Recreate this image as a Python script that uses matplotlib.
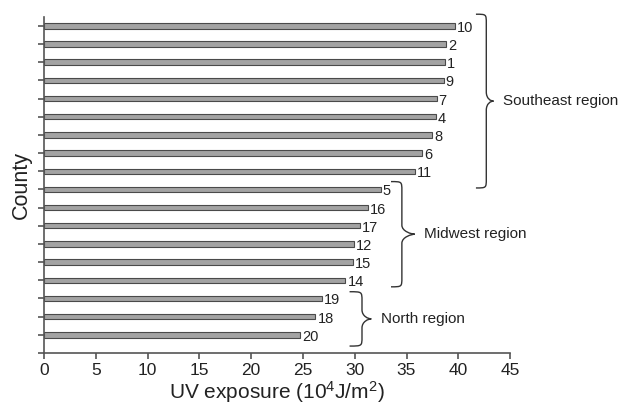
import matplotlib
matplotlib.use("Agg")
import matplotlib.pyplot as plt
from matplotlib.path import Path
from matplotlib.patches import PathPatch

plt.rcParams['font.family'] = ['Liberation Sans', 'DejaVu Sans']
plt.rcParams['mathtext.fontset'] = 'custom'
plt.rcParams['mathtext.rm'] = 'Liberation Sans'
plt.rcParams['mathtext.default'] = 'rm'

# counties, top to bottom
counties = [10, 2, 1, 9, 7, 4, 8, 6, 11, 5, 16, 17, 12, 15, 14, 19, 18, 20]
uv = [39.7, 38.8, 38.7, 38.6, 37.9, 37.8, 37.5, 36.5, 35.8,
      32.5, 31.3, 30.5, 29.9, 29.8, 29.1, 26.8, 26.2, 24.7]
regions = ["Southeast region", "Midwest region", "North region"]
region_sizes = [9, 6, 3]

n = len(counties)
ypos = [n - 1 - i for i in range(n)]

fig = plt.figure(figsize=(6.24, 4.09), dpi=100)
ax = fig.add_axes([0.0705, 0.137, 0.747, 0.822])

ax.barh(ypos, uv, height=0.3, color='#a3a3a3', edgecolor='#4a4a4a', linewidth=0.8)

for c, v, y in zip(counties, uv, ypos):
    ax.annotate(str(c), (v, y), xytext=(2, -2), textcoords='offset pixels',
                va='center', ha='left', fontsize=10.5, color='#222222')

ax.set_xlim(0, 45)
ax.set_ylim(-1, n - 0.5)
ax.set_xticks(range(0, 46, 5))
ax.set_yticks(range(-1, n))
ax.set_yticklabels([])
for s in ['top', 'right']:
    ax.spines[s].set_visible(False)
for s in ['left', 'bottom']:
    ax.spines[s].set_color('#555555')
    ax.spines[s].set_linewidth(1.2)
ax.tick_params(axis='both', direction='out', length=4, width=1.2, color='#555555',
               labelsize=12.5, labelcolor='#222222')
ax.tick_params(axis='x', pad=3)
ax.set_xlabel("UV exposure (10$^{4}$J/m$^{2}$)", fontsize=15, color='#222222', labelpad=1)
ax.set_ylabel("County", fontsize=15.5, color='#222222', labelpad=1)


def brace(x_end, x_spine, x_tip, y_top, y_bot, r=0.5):
    ym = (y_top + y_bot) / 2
    verts = [(x_end, y_top),
             (x_spine, y_top), (x_spine, y_top), (x_spine, y_top - r),
             (x_spine, ym + r),
             (x_spine, ym + 0.15), (x_tip - 0.3, ym), (x_tip, ym),
             (x_tip - 0.3, ym), (x_spine, ym - 0.15), (x_spine, ym - r),
             (x_spine, y_bot + r),
             (x_spine, y_bot), (x_spine, y_bot), (x_end, y_bot)]
    codes = [Path.MOVETO,
             Path.CURVE4, Path.CURVE4, Path.CURVE4,
             Path.LINETO,
             Path.CURVE4, Path.CURVE4, Path.CURVE4,
             Path.CURVE4, Path.CURVE4, Path.CURVE4,
             Path.LINETO,
             Path.CURVE4, Path.CURVE4, Path.CURVE4]
    ax.add_patch(PathPatch(Path(verts, codes), fill=False, edgecolor='#333333',
                           linewidth=1.0, clip_on=False))
    return ym


# brace x: end, spine, tip (data units)
brace_x = [(41.7, 42.7, 43.4), (33.5, 34.55, 35.8), (29.5, 30.7, 31.6)]
brace_pad = [(0.64, 0.92), (0.43, 0.36), (0.37, 0.62)]

start = 0
for name, size, bx, pad in zip(regions, region_sizes, brace_x, brace_pad):
    top = ypos[start]
    bot = ypos[start + size - 1]
    ym = brace(bx[0], bx[1], bx[2], top + pad[0], bot - pad[1])
    ax.text(bx[2] + 0.9, ym, name, va='center', ha='left', fontsize=11,
            color='#222222', clip_on=False)
    start += size

fig.savefig("out.png", dpi=100)
